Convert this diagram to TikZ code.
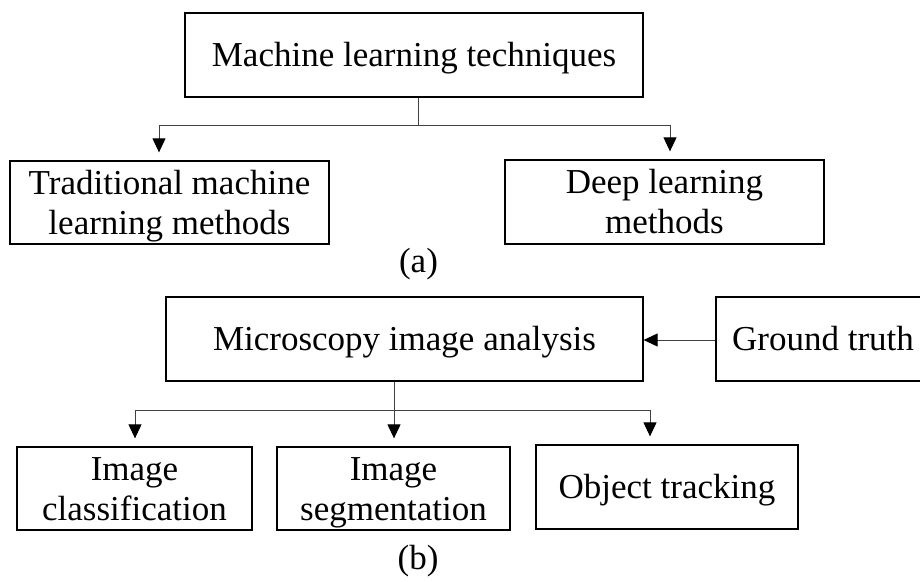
\documentclass[tikz,border=0pt]{standalone}
\usepackage{fontspec}
\setmainfont{Liberation Serif}
\usetikzlibrary{arrows.meta}
\newcommand{\twolines}[2]{\begin{tabular}[t]{@{}c@{}}#1\\#2\end{tabular}}
\begin{document}
\begin{tikzpicture}[x=1pt,y=-1pt,
  box/.style={draw=black,line width=1.3pt,inner sep=0pt,
    font=\fontsize{35}{40}\selectfont,text height=23pt,text depth=0pt},
  box2/.style={box,text depth=40pt},
  conn/.style={draw=black!75,line width=1pt},
  arr/.style={conn,-{Triangle[length=14pt,width=13pt,fill=black,color=black]},shorten >=8pt},
  lbl/.style={font=\fontsize{35}{40}\selectfont,inner sep=0pt}]
\path[use as bounding box] (0,0) rectangle (920,581);
\clip (0,0) rectangle (920,581);
\fill[white] (0,0) rectangle (920,581);
% (a)
\node[box,minimum width=458pt,minimum height=84pt] (top) at (414,55) {Machine learning techniques};
\node[box2,minimum width=319pt,minimum height=83pt] (trad) at (169.5,202.5) {\twolines{Traditional machine}{learning methods}};
\node[box2,minimum width=319pt,minimum height=84pt] (deep) at (664.5,202) {\twolines{Deep learning}{methods}};
\node[lbl] (la) at (418.5,264) {(a)};
\coordinate (j1) at (418,125);
\draw[conn] (top.south -| j1) -- (j1);
\draw[conn] (159,125) -- (670,125);
\draw[arr] (159,125) -- ([xshift=-10.5pt]trad.north);
\draw[arr] (670,125) -- ([xshift=5.5pt]deep.north);
% (b)
\node[box,minimum width=477pt,minimum height=84pt] (micro) at (404.5,339) {Microscopy image analysis};
\node[box,minimum width=214pt,minimum height=84pt] (gt) at (823,339) {Ground truth};
\node[box2,minimum width=235pt,minimum height=83pt] (cls) at (134.5,488.5) {\twolines{Image}{classification}};
\node[box2,minimum width=233pt,minimum height=83pt] (seg) at (393.5,488.5) {\twolines{Image}{segmentation}};
\node[box,minimum width=262pt,minimum height=84pt] (obj) at (667,487) {Object tracking};
\node[lbl] (lb) at (418,561) {(b)};
\draw[arr,shorten >=0pt] (gt.west |- 0,340) -- (micro.east |- 0,340);
\coordinate (j2) at (394,410);
\draw[arr] (micro.south -| j2) -- (seg.north -| j2);
\draw[conn] (135,410) -- (650,410);
\draw[arr] (135,410) -- (cls.north -| 135,0);
\draw[arr] (650,410) -- ([xshift=-17pt]obj.north);
\end{tikzpicture}
\end{document}
